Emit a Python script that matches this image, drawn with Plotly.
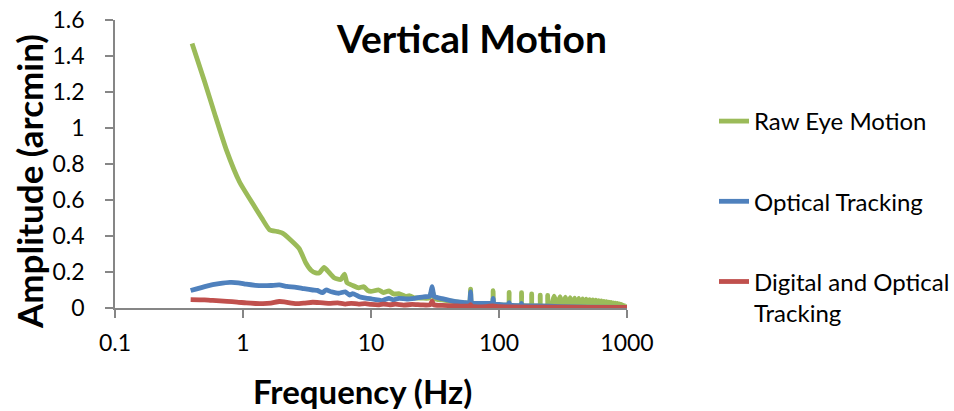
import plotly.graph_objects as go

# ---------------- data ----------------
raw_freq = [0.40, 0.50, 0.60, 0.74, 0.94, 1.19, 1.40, 1.61, 1.87, 2.05, 2.30, 2.75,
            3.10, 3.40, 3.70, 3.95, 4.30, 4.60, 5.15, 5.80, 6.20, 6.50, 7.20, 8.00,
            8.80, 9.40, 10.0, 11.5, 12.5, 13.8, 15.0, 16.5, 18.6, 20.0, 22.0, 25.0,
            28.5, 30.0, 31.5, 36.0, 40.0, 45.0, 50.0, 55.0, 58.8, 60.0, 61.2, 70.0,
            80.0, 88.8, 90.0, 91.2, 100, 118.5, 120, 121.5, 148.5, 150, 151.5,
            178.5, 180, 181.5, 208.5, 210, 211.5, 238.5, 240, 241.5, 255, 270, 285,
            300, 315, 330, 345, 360, 375, 390, 405, 420, 435, 450, 465, 480, 495,
            510, 525, 540, 555, 570, 585, 600, 615, 630, 645, 660, 675, 690, 705,
            720, 735, 750, 765, 780, 795, 810, 825, 840, 855, 870, 885, 900, 915,
            930, 945, 960, 975, 990, 1000]
raw_amp = [1.47, 1.26, 1.08, 0.88, 0.70, 0.58, 0.50, 0.435, 0.424, 0.415, 0.385, 0.33,
           0.25, 0.21, 0.195, 0.195, 0.226, 0.205, 0.168, 0.158, 0.188, 0.14, 0.125, 0.112,
           0.118, 0.098, 0.092, 0.100, 0.085, 0.095, 0.078, 0.080, 0.065, 0.068, 0.056, 0.055,
           0.055, 0.100, 0.050, 0.045, 0.040, 0.035, 0.030, 0.028, 0.028, 0.105, 0.026, 0.022,
           0.020, 0.019, 0.096, 0.019, 0.018, 0.017, 0.087, 0.017, 0.016, 0.085, 0.016,
           0.015, 0.078, 0.015, 0.014, 0.072, 0.014, 0.013, 0.070, 0.013, 0.013, 0.066, 0.012,
           0.063, 0.012, 0.060, 0.011, 0.057, 0.011, 0.055, 0.010, 0.053, 0.010, 0.051, 0.010, 0.049, 0.009,
           0.047, 0.009, 0.045, 0.008, 0.043, 0.008, 0.041, 0.008, 0.039, 0.007, 0.037, 0.007, 0.035, 0.007,
           0.033, 0.006, 0.031, 0.006, 0.029, 0.006, 0.027, 0.005, 0.025, 0.005, 0.023, 0.005, 0.020, 0.004,
           0.016, 0.004, 0.011, 0.004, 0.006, 0.003]

opt_freq = [0.39, 0.52, 0.65, 0.79, 0.92, 1.06, 1.25, 1.43, 1.65, 1.92, 2.2, 2.6,
            3.0, 3.5, 3.8, 4.17, 4.45, 4.9, 5.6, 6.3, 6.8, 7.2, 8.1, 9.1,
            10.2, 11.6, 12.2, 13.8, 15.0, 16.5, 19.0, 22.0, 25.8, 28.8, 30.0, 31.2,
            36.0, 41.0, 45.7, 50.0, 54.5, 58.8, 60.0, 61.2, 69.0, 78.0, 85.0, 88.8,
            90.0, 91.2, 100, 118.5, 120, 121.5, 148.5, 150, 151.5, 200, 300, 500, 1000]
opt_amp = [0.097, 0.122, 0.135, 0.142, 0.140, 0.132, 0.126, 0.124, 0.125, 0.128, 0.120, 0.115,
           0.107, 0.100, 0.098, 0.085, 0.100, 0.090, 0.082, 0.090, 0.072, 0.080, 0.063, 0.055,
           0.050, 0.044, 0.041, 0.054, 0.045, 0.054, 0.050, 0.054, 0.062, 0.066, 0.118, 0.064,
           0.052, 0.042, 0.035, 0.033, 0.030, 0.029, 0.090, 0.028, 0.026, 0.025, 0.025, 0.024,
           0.054, 0.022, 0.020, 0.018, 0.030, 0.017, 0.015, 0.025, 0.014, 0.012, 0.008, 0.005, 0.003]

dig_freq = [0.39, 0.50, 0.58, 0.75, 0.90, 1.06, 1.25, 1.43, 1.65, 1.92, 2.1, 2.6,
            3.0, 3.5, 4.0, 4.7, 5.5, 6.3, 7.0, 8.0, 9.0, 10.0, 11.6, 12.5,
            14.0, 15.5, 18.0, 21.0, 25.0, 29.0, 30.0, 31.0, 36.0, 45.0, 58.8, 60.0,
            61.2, 80.0, 90.0, 100, 200, 500, 1000]
dig_amp = [0.047, 0.045, 0.042, 0.037, 0.033, 0.028, 0.025, 0.024, 0.027, 0.036, 0.034, 0.024,
           0.027, 0.032, 0.030, 0.026, 0.028, 0.022, 0.026, 0.022, 0.024, 0.020, 0.018, 0.022,
           0.018, 0.021, 0.016, 0.020, 0.017, 0.018, 0.038, 0.017, 0.015, 0.012, 0.011, 0.018,
           0.010, 0.008, 0.012, 0.007, 0.005, 0.004, 0.003]

x_tick_vals = [0.1, 1, 10, 100, 1000]
x_tick_text = ["0.1", "1", "10", "100", "1000"]

series_names = ["Raw Eye Motion", "Optical Tracking", "Digital and Optical<br>Tracking"]
series_colors = ["#9BBB59", "#4F81BD", "#C0504D"]

FONT = "Lato"
AXIS_GREY = "#868686"

fig = go.Figure()
for i, (xs, ys) in enumerate([(raw_freq, raw_amp), (opt_freq, opt_amp), (dig_freq, dig_amp)]):
    fig.add_trace(go.Scatter(
        x=xs, y=ys, mode="lines", name=series_names[i],
        legendgroup=f"g{i}",
        line=dict(color=series_colors[i], width=4.8, shape="spline", smoothing=0.5),
    ))

fig.update_layout(
    width=954, height=411,
    margin=dict(l=115, r=327, t=20, b=103, autoexpand=False),
    paper_bgcolor="white", plot_bgcolor="white",
    font=dict(family=FONT, color="black"),
    title=dict(text="<b>Vertical Motion</b>", font=dict(family=FONT, size=39, color="black"),
               x=472 / 954, xref="container", xanchor="center",
               y=1 - 39 / 411, yref="container", yanchor="middle"),
    showlegend=True,
    legend=dict(x=(714 - 115) / 512, xref="paper", xanchor="left",
                y=(308 - 99) / 288, yref="paper", yanchor="top",
                maxheight=400,
                font=dict(family=FONT, size=24, color="black"),
                tracegroupgap=46, valign="top", bgcolor="rgba(0,0,0,0)"),
    xaxis=dict(type="log", range=[-1, 3], tickvals=x_tick_vals, ticktext=x_tick_text,
               automargin=False,
               showgrid=False, zeroline=False, showline=True, linecolor=AXIS_GREY, linewidth=1.5,
               ticks="outside", ticklen=8, tickcolor=AXIS_GREY, tickwidth=1.5,
               tickfont=dict(family=FONT, size=23, color="black"), ticklabelstandoff=6),
    yaxis=dict(range=[0, 1.6], dtick=0.2, tick0=0, automargin=False,
               showgrid=False, zeroline=False, showline=True, linecolor=AXIS_GREY, linewidth=1.5,
               ticks="outside", ticklen=8, tickcolor=AXIS_GREY, tickwidth=1.5,
               tickfont=dict(family=FONT, size=23, color="black"), ticklabelstandoff=16),
    annotations=[
        dict(text="<b>Frequency (Hz)</b>", xref="paper", yref="paper",
             x=(362 - 115) / 512, y=-(391 - 308) / 288, xanchor="center", yanchor="middle",
             showarrow=False, font=dict(family=FONT, size=33, color="black")),
        dict(text="<b>Amplitude (arcmin)</b>", xref="paper", yref="paper",
             x=-(115 - 29) / 512, y=(308 - 182) / 288, xanchor="center", yanchor="middle",
             textangle=-90, showarrow=False, font=dict(family=FONT, size=35, color="black")),
    ],
)

fig.write_html("out.html",
               config={"displayModeBar": False},
               post_script="document.body.style.margin='0';document.body.style.padding='0';")
